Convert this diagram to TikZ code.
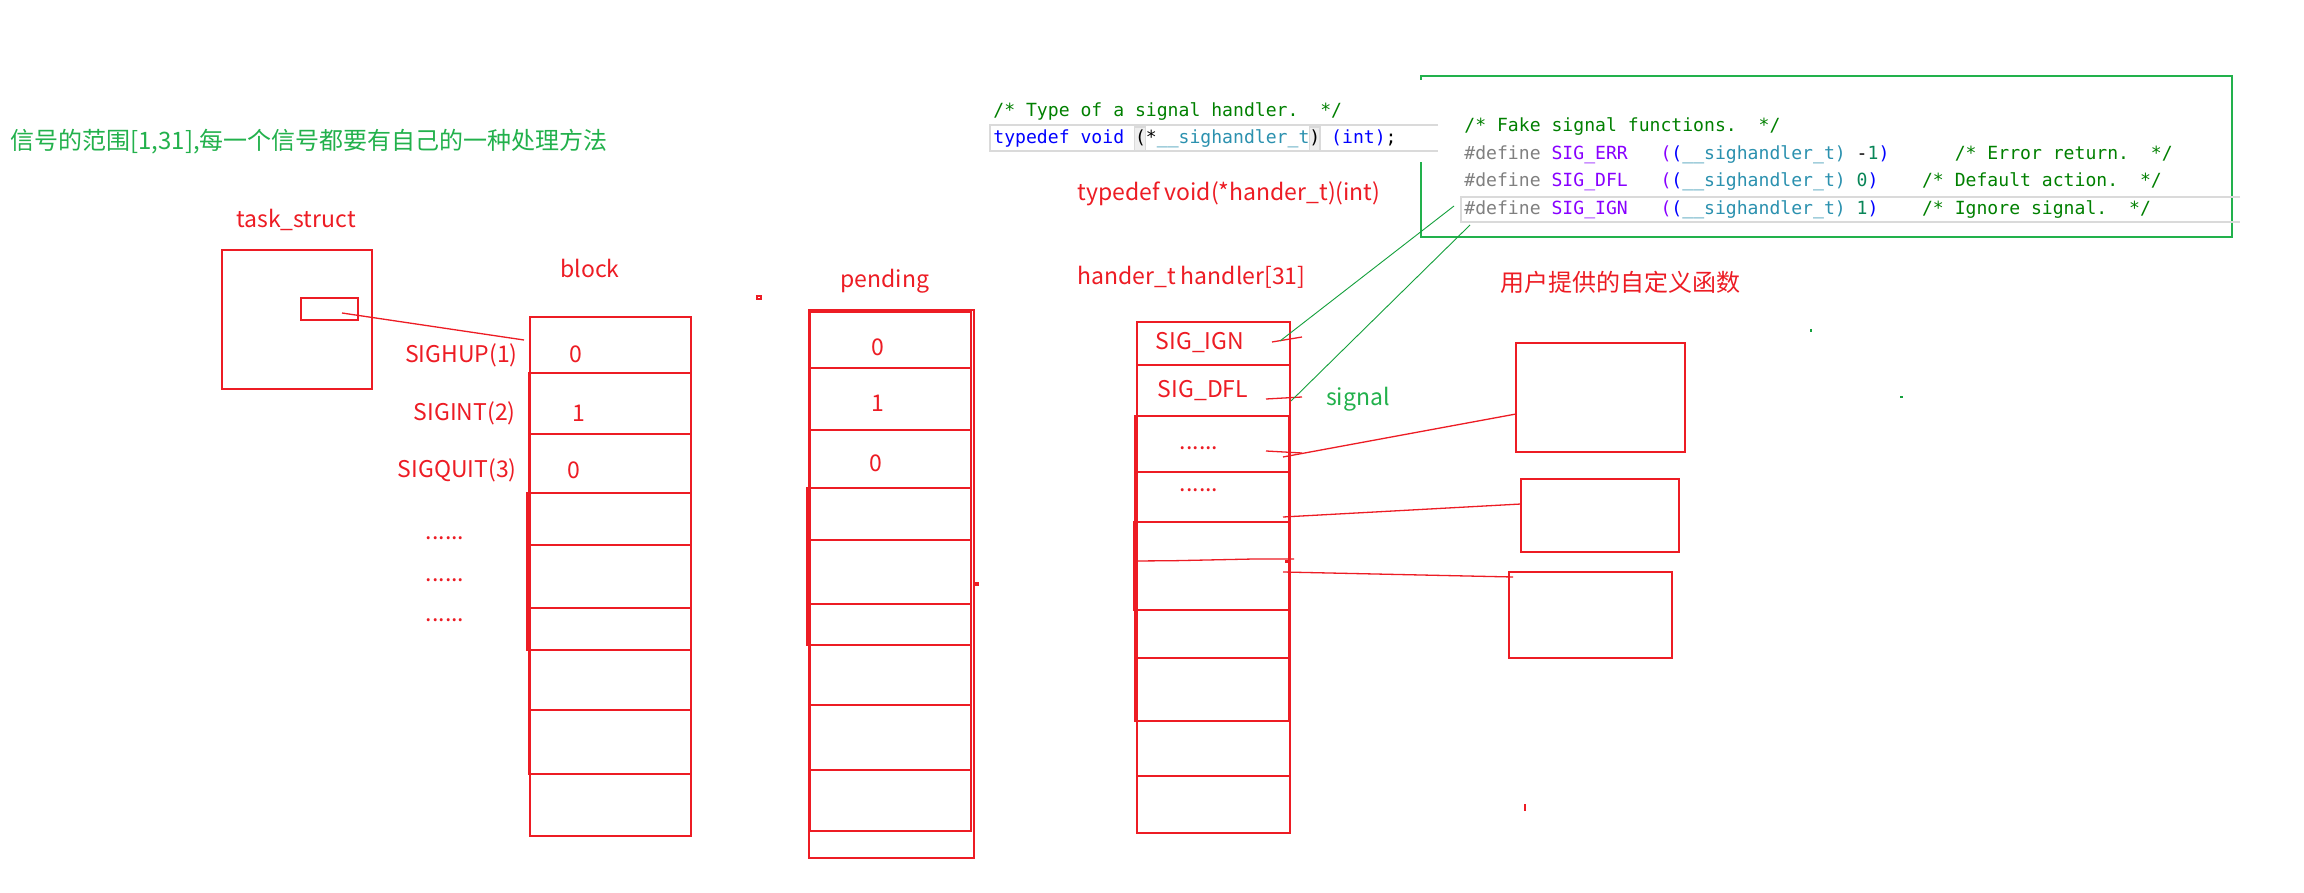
\documentclass[tikz,border=0pt]{standalone}
\usepackage{fontspec}
\setmainfont{Noto Sans CJK SC}
\newfontfamily\codefont{DejaVu Sans Mono}
\usetikzlibrary{fit}
\definecolor{pred}{RGB}{237,28,36}
\definecolor{pgreen}{RGB}{34,177,76}
\definecolor{lgreen}{RGB}{20,160,60}
\definecolor{cgreen}{RGB}{0,128,0}
\definecolor{cblue}{RGB}{0,0,255}
\definecolor{cteal}{RGB}{43,145,175}
\definecolor{cgray}{RGB}{128,128,128}
\definecolor{cpurple}{RGB}{136,0,255}
\definecolor{cnum}{RGB}{9,134,88}
\definecolor{hlgray}{RGB}{238,238,238}
\definecolor{brgray}{RGB}{218,218,218}
\newcommand\cellbox[5]{\node[cell, fit={(#2,#3)(#4,#5)}] (#1) {};}
\tikzset{
  cell/.style={draw=pred, line width=0.65pt, inner sep=0pt, outer sep=0pt},
  rlbl/.style={text=pred, font=\fontsize{11.5}{13}\selectfont, inner sep=0pt},
  glbl/.style={text=pgreen, font=\fontsize{11.5}{13}\selectfont, inner sep=0pt},
  cjklbl/.style={font=\fontsize{12}{14}\selectfont, inner sep=0pt},
  code/.style={font=\codefont\fontsize{9.05}{10}\selectfont, inner sep=0pt, anchor=west},
  rline/.style={draw=pred, line width=0.65pt},
  gline/.style={draw=lgreen, line width=0.45pt},
  hlbox/.style={draw=brgray, line width=1pt},
}
\begin{document}
\begin{tikzpicture}[x=0.5pt, y=-0.5pt]
\useasboundingbox[fill=white] (0,0) rectangle (2304,893);

% ---------- title ----------
\node[cjklbl, text=pgreen, anchor=west] (title) at (10,142) {信号的范围[1,31],每一个信号都要有自己的一种处理方法};

% ---------- task_struct ----------
\node[rlbl] (tslbl) at (296,220) {task\_struct};
\cellbox{ts}{222}{250}{372}{389}
\cellbox{tsin}{301}{298}{358}{320}
\coordinate (tsp) at (342,313);

% ---------- block ----------
\node[rlbl] (blocklbl) at (590,268) {block};
\cellbox{b1}{530}{317}{691}{373}
\cellbox{b2}{530}{373}{691}{434}
\cellbox{b3}{530}{434}{691}{493}
\cellbox{b4}{530}{493}{691}{545}
\cellbox{b5}{530}{545}{691}{608}
\cellbox{b6}{530}{608}{691}{650}
\cellbox{b7}{530}{650}{691}{710}
\cellbox{b8}{530}{710}{691}{774}
\cellbox{b9}{530}{774}{691}{836}
\cellbox{bA}{529}{373}{691}{774}
\cellbox{bB}{527}{493}{691}{650}
\coordinate (bkp) at (524,340);
\draw[rline] (tsp) -- (bkp);

\node[rlbl, anchor=east] (s1) at (518,355) {SIGHUP(1)};
\node[rlbl, anchor=east] (s2) at (516,413) {SIGINT(2)};
\node[rlbl, anchor=east] (s3) at (517,470) {SIGQUIT(3)};
\node[rlbl, anchor=base] (d1) at (445,539) {......};
\node[rlbl, anchor=base] (d2) at (445,581) {......};
\node[rlbl, anchor=base] (d3) at (445,621) {......};
\node[rlbl] (bv1) at (576,354) {0};
\node[rlbl] (bv2) at (579,413) {1};
\node[rlbl] (bv3) at (574,470) {0};

% ---------- pending ----------
\node[rlbl] (pendlbl) at (885,281) {pending};
\cellbox{p0}{809}{310}{974}{858}
\cellbox{p1}{810}{312}{971}{368}
\cellbox{p2}{810}{368}{971}{430}
\cellbox{p3}{810}{430}{971}{488}
\cellbox{p4}{810}{488}{971}{540}
\cellbox{p5}{810}{540}{971}{604}
\cellbox{p6}{810}{604}{971}{645}
\cellbox{p7}{810}{645}{971}{705}
\cellbox{p8}{810}{705}{971}{770}
\cellbox{p9}{810}{770}{971}{831}
\cellbox{pE}{807}{488}{971}{645}
\node[rlbl] (pv1) at (878,347) {0};
\node[rlbl] (pv2) at (878,403) {1};
\node[rlbl] (pv3) at (876,463) {0};
\cellbox{mk1}{757}{296}{761}{299}
\cellbox{mk2}{975}{583}{978}{585}

% ---------- handler ----------
\node[rlbl, anchor=west] (tdef) at (1077,194) {typedef void(*hander\_t)(int)};
\node[rlbl, anchor=west] (harr) at (1077,277) {hander\_t handler[31]};
\cellbox{h0}{1137}{322}{1290}{833}
\cellbox{h1}{1137}{322}{1290}{365}
\cellbox{h2}{1137}{365}{1290}{472}
\cellbox{h3}{1137}{472}{1290}{610}
\cellbox{h4}{1137}{610}{1290}{658}
\cellbox{h5}{1137}{658}{1290}{776}
\cellbox{h6}{1137}{776}{1290}{833}
\cellbox{hC}{1135}{416}{1289}{721}
\cellbox{hD}{1134}{522}{1290}{610}
\draw[rline] (1135,561) -- (1174,560.7) -- (1254,559) -- (1294,559);
\fill[pred] (1285,560) rectangle (1290,563);
\node[rlbl] (ign) at (1200,343) {SIG\_IGN};
\node[rlbl] (dfl) at (1203,391) {SIG\_DFL};
\node[rlbl, anchor=base] (hd1) at (1199,450) {......};
\node[rlbl, anchor=base] (hd2) at (1199,491) {......};
\node[glbl] (sig) at (1358,399) {signal};
\draw[rline] (1272,342) -- (1302,337);
\draw[rline] (1266,399) -- (1302,397);
\draw[rline] (1266,451) -- (1302,453);

% ---------- user functions ----------
\node[cjklbl, text=pred] (ufn) at (1620,282) {用户提供的自定义函数};
\cellbox{fb1}{1516}{343}{1685}{452}
\cellbox{fb2}{1521}{479}{1679}{552}
\cellbox{fb3}{1509}{572}{1672}{658}
\coordinate (a1) at (1283,457);
\coordinate (e1) at (1516,414);
\coordinate (a2) at (1283,517);
\coordinate (e2) at (1521,504);
\coordinate (a3) at (1283,572);
\coordinate (e3) at (1513,577);
\draw[rline] (a1) -- (e1);
\draw[rline] (a2) -- (e2);
\draw[rline] (a3) -- (e3);
\draw[pred, line width=1pt] (1525,804) -- (1525,811);
\draw[lgreen, line width=0.6pt] (1811,329) -- (1811,332);
\draw[lgreen, line width=0.6pt] (1900,397) -- (1903,397);

% ---------- code: typedef ----------
\draw[hlbox] (1438,125) -| (990,151) -- (1438,151);
\draw[brgray, fill=hlgray, line width=0.6pt] (1134.7,127) rectangle (1145.6,151);
\draw[brgray, fill=hlgray, line width=0.6pt] (1309.1,127) rectangle (1320,151);
\node[code, text=cgreen] (c1) at (993,112) {/*~Type~of~a~signal~handler.~~*/};
\node[code] (c2) at (993,139) {\textcolor{cblue}{typedef~void}~(*\textcolor{cteal}{\_\_sighandler\_t})~\textcolor{cblue}{(int)};};

% ---------- code: fake signal functions ----------
\draw[pgreen, line width=0.8pt] (1421,80) -- (1421,76) -- (2232,76) -- (2232,237) -- (1421,237) -- (1421,162);
\draw[hlbox] (2240,197) -| (1461,222) -- (2240,222);
\node[code, text=cgreen] (f1) at (1464,127) {/*~Fake~signal~functions.~~*/};
\node[code] (f2) at (1464,155) {\textcolor{cgray}{\#define}~\textcolor{cpurple}{SIG\_ERR}~~~\textcolor{cpurple}{(}\textcolor{cblue}{(}\textcolor{cteal}{\_\_sighandler\_t)}~-\textcolor{cnum}{1}\textcolor{cblue}{)}~~~~~~\textcolor{cgreen}{/*~Error~return.~~*/}};
\node[code] (f3) at (1464,182) {\textcolor{cgray}{\#define}~\textcolor{cpurple}{SIG\_DFL}~~~\textcolor{cpurple}{(}\textcolor{cblue}{(}\textcolor{cteal}{\_\_sighandler\_t)}~\textcolor{cnum}{0}\textcolor{cblue}{)}~~~~\textcolor{cgreen}{/*~Default~action.~~*/}};
\node[code] (f4) at (1464,210) {\textcolor{cgray}{\#define}~\textcolor{cpurple}{SIG\_IGN}~~~\textcolor{cpurple}{(}\textcolor{cblue}{(}\textcolor{cteal}{\_\_sighandler\_t)}~\textcolor{cnum}{1}\textcolor{cblue}{)}~~~~\textcolor{cgreen}{/*~Ignore~signal.~~*/}};

% ---------- green links ----------
\coordinate (gi) at (1280,341);
\coordinate (gie) at (1454,206);
\coordinate (gd) at (1291,401);
\coordinate (gde) at (1470,225);
\draw[gline] (gi) -- (gie);
\draw[gline] (gd) -- (gde);
\end{tikzpicture}
\end{document}
